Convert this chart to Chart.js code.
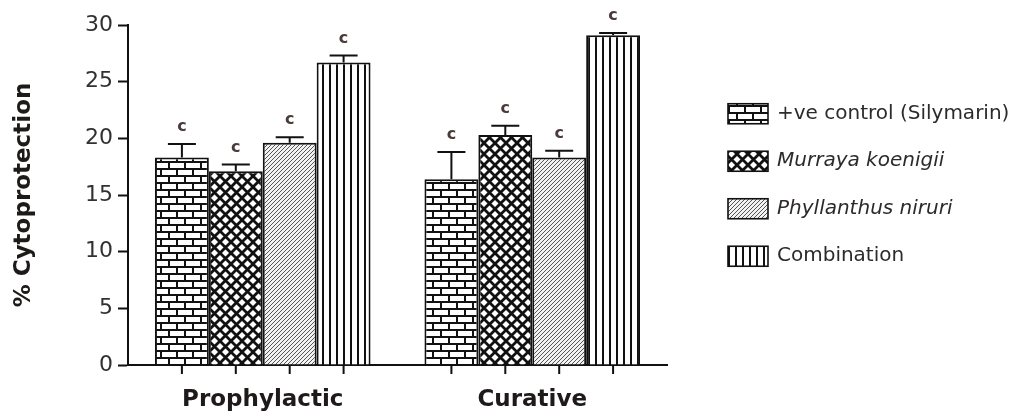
<!DOCTYPE html>
<html>
<head>
<meta charset="utf-8">
<script src="https://cdn.jsdelivr.net/npm/chart.js@4.4.1/dist/chart.umd.min.js"></script>
<style>
  html, body { margin: 0; padding: 0; background: #ffffff; }
  #wrap { width: 1010px; height: 417px; }
</style>
</head>
<body>
<div id="wrap"><canvas id="chart" width="1010" height="417"></canvas></div>
<script>
// Treatment regimens on the x axis
const categories = ['Prophylactic', 'Curative'];

// Mean % cytoprotection per group
const silymarin   = [18.3, 16.4];
const murraya     = [17.1, 20.3];
const phyllanthus = [19.6, 18.3];
const combination = [26.7, 29.1];

// Standard error of the mean (upper error bar)
const silymarinErr   = [1.2, 2.4];
const murrayaErr     = [0.6, 0.8];
const phyllanthusErr = [0.5, 0.6];
const combinationErr = [0.6, 0.2];

// Significance letters printed above each bar
const silymarinSig   = ['c', 'c'];
const murrayaSig     = ['c', 'c'];
const phyllanthusSig = ['c', 'c'];
const combinationSig = ['c', 'c'];

// Series names
const seriesNames = ['+ve control (Silymarin)', 'Murraya koenigii', 'Phyllanthus niruri', 'Combination'];
const italicNames = [false, true, true, false];

// Y axis ticks
const yTicks = [0, 5, 10, 15, 20, 25, 30];

const FONT = "'DejaVu Sans', 'Liberation Sans', Arial, sans-serif";

// ---- fill patterns ----
function makeTile(w, h, draw) {
  const c = document.createElement('canvas');
  c.width = w; c.height = h;
  const g = c.getContext('2d');
  draw(g, w, h);
  return c;
}
const mainCtx = document.getElementById('chart').getContext('2d');

const brickTile = makeTile(16, 14, (g, w, h) => {
  g.fillStyle = '#ffffff'; g.fillRect(0, 0, w, h);
  g.fillStyle = '#111111';
  g.fillRect(0, 0, w, 2);
  g.fillRect(0, 7, w, 2);
  g.fillRect(0, 2, 2, 5);
  g.fillRect(8, 9, 2, 5);
});
const crossTile = makeTile(11, 11, (g, w, h) => {
  g.fillStyle = '#ffffff'; g.fillRect(0, 0, w, h);
  g.strokeStyle = '#111111'; g.lineWidth = 2.8;
  g.beginPath();
  g.moveTo(-4, -4); g.lineTo(w + 4, h + 4);
  g.moveTo(w + 4, -4); g.lineTo(-4, h + 4);
  g.stroke();
});
const hatchTile = makeTile(4, 4, (g, w, h) => {
  g.fillStyle = '#f2f2f2'; g.fillRect(0, 0, w, h);
  g.strokeStyle = '#555555'; g.lineWidth = 1.0;
  g.beginPath();
  g.moveTo(-1, h + 1); g.lineTo(w + 1, -1);
  g.moveTo(-w - 1, h + 1); g.lineTo(1, -1);
  g.moveTo(w - 1, 2 * h + 1); g.lineTo(2 * w + 1, h - 1);
  g.stroke();
});
const stripeTile = makeTile(7, 8, (g, w, h) => {
  g.fillStyle = '#ffffff'; g.fillRect(0, 0, w, h);
  g.fillStyle = '#111111';
  g.fillRect(0, 0, 2, h);
});

const patterns = [
  mainCtx.createPattern(brickTile, 'repeat'),
  mainCtx.createPattern(crossTile, 'repeat'),
  mainCtx.createPattern(hatchTile, 'repeat'),
  mainCtx.createPattern(stripeTile, 'repeat')
];

const seriesValues = [silymarin, murraya, phyllanthus, combination];
const seriesErrors = [silymarinErr, murrayaErr, phyllanthusErr, combinationErr];
const seriesSig = [silymarinSig, murrayaSig, phyllanthusSig, combinationSig];

const datasets = seriesValues.map((vals, i) => ({
  label: seriesNames[i],
  data: vals,
  errors: seriesErrors[i],
  sig: seriesSig[i],
  backgroundColor: patterns[i],
  borderColor: '#111111',
  borderWidth: 2,
  borderSkipped: 'bottom'
}));

// Upper error bars, significance letters and tick marks under every bar
const barExtras = {
  id: 'barExtras',
  afterDatasetsDraw(chart) {
    const ctx = chart.ctx;
    const yScale = chart.scales.y;
    const bottom = chart.chartArea.bottom;
    ctx.save();
    chart.data.datasets.forEach((ds, i) => {
      const meta = chart.getDatasetMeta(i);
      meta.data.forEach((bar, j) => {
        const x = bar.x;
        const top = yScale.getPixelForValue(ds.data[j] + ds.errors[j]);
        ctx.strokeStyle = '#111111';
        ctx.lineWidth = 2;
        ctx.beginPath();
        ctx.moveTo(x, bar.y);
        ctx.lineTo(x, top);
        ctx.moveTo(x - 14, top);
        ctx.lineTo(x + 14, top);
        // tick mark below the axis
        ctx.moveTo(x, bottom);
        ctx.lineTo(x, bottom + 9);
        ctx.stroke();
        ctx.fillStyle = '#4a3b3b';
        ctx.font = "bold 16px " + FONT;
        ctx.textAlign = 'center';
        ctx.textBaseline = 'middle';
        ctx.fillText(ds.sig[j], x, top - 17);
      });
    });
    ctx.restore();
  }
};

// Legend with italic species names
const sideLegend = {
  id: 'sideLegend',
  afterDraw(chart) {
    const ctx = chart.ctx;
    const area = chart.chartArea;
    const boxX = area.right + 61;
    const rowGap = 47.5;
    const firstY = (area.top + area.bottom) / 2 - 1.5 * rowGap - 10;
    ctx.save();
    chart.data.datasets.forEach((ds, i) => {
      const cy = firstY + i * rowGap;
      ctx.fillStyle = ds.backgroundColor;
      ctx.fillRect(boxX, cy - 10, 40, 20);
      ctx.strokeStyle = '#111111';
      ctx.lineWidth = 1.6;
      ctx.strokeRect(boxX, cy - 10, 40, 20);
      ctx.fillStyle = '#2e2a2a';
      ctx.font = (italicNames[i] ? 'italic ' : '') + '20px ' + FONT;
      ctx.textAlign = 'left';
      ctx.textBaseline = 'middle';
      ctx.fillText(ds.label, boxX + 49, cy);
    });
    ctx.restore();
  }
};

new Chart(mainCtx, {
  type: 'bar',
  data: { labels: categories, datasets },
  plugins: [barExtras, sideLegend],
  options: {
    responsive: false,
    devicePixelRatio: 1,
    animation: false,
    layout: { padding: { top: 25, left: 0, right: 343, bottom: 0 } },
    datasets: { bar: { categoryPercentage: 0.8, barPercentage: 1.0 } },
    plugins: {
      legend: { display: false },
      tooltip: { enabled: false }
    },
    scales: {
      x: {
        grid: { display: false },
        border: { display: true, color: '#111111', width: 2 },
        ticks: {
          color: '#1e1a1a',
          font: { family: FONT, size: 23, weight: 'bold' },
          padding: 13,
          maxRotation: 0
        },
        afterFit: (s) => { s.height = 52; }
      },
      y: {
        min: 0,
        max: 30,
        afterBuildTicks: (s) => { s.ticks = yTicks.map(v => ({ value: v })); },
        grid: {
          drawOnChartArea: false,
          drawTicks: true,
          tickLength: 10,
          tickWidth: 2,
          tickColor: '#111111'
        },
        border: { display: true, color: '#111111', width: 2 },
        ticks: {
          color: '#333030',
          font: { family: FONT, size: 22 },
          padding: 5
        },
        title: {
          display: true,
          text: '% Cytoprotection',
          color: '#1e1a1a',
          font: { family: FONT, size: 23, weight: 'bold' },
          padding: { top: 10, bottom: 0 }
        },
        afterFit: (s) => { s.width = 128; }
      }
    }
  }
});
</script>
</body>
</html>
